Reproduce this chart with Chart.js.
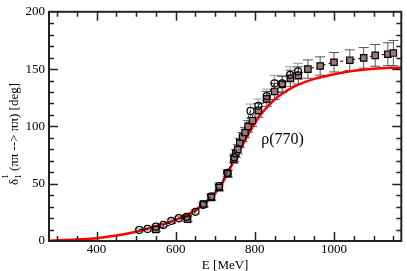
<!DOCTYPE html>
<html>
<head>
<meta charset="utf-8">
<script src="https://cdn.jsdelivr.net/npm/chart.js@4.4.0/dist/chart.umd.min.js"></script>
<style>
  html, body { margin: 0; padding: 0; background: #fff; }
  canvas { display: block; }
</style>
</head>
<body>
<canvas id="phaseChart" width="407" height="271"></canvas>
<script>
// open circles
const circleEnergy = [508, 529, 550, 569, 589, 608, 627, 650, 669, 690, 710, 730, 748, 789, 809, 830, 850, 869, 889, 909];
const circlePhase  = [9.7, 10.5, 12.5, 14, 17.6, 19.9, 21, 25.5, 31.5, 39, 48, 59.5, 73, 113.5, 118, 126.5, 137.5, 137.5, 145, 148];
const circleError  = [1, 1, 1.2, 1.2, 1.5, 1.5, 1.5, 2, 2, 2.5, 3, 3, 3.5, 6, 6, 6, 7, 7, 7, 7];

// filled squares
const squareEnergy = [550, 630, 671, 690, 710, 732, 747, 752, 757, 762, 769, 775, 783, 794, 809, 830, 850, 869, 890, 910, 934, 965, 1000, 1040, 1075, 1104, 1136, 1150];
const squarePhase  = [10, 19, 32.3, 38, 46.7, 58.7, 71.4, 76.5, 80, 85.6, 90.7, 94.7, 100, 105, 114, 124, 130.5, 136.6, 142, 144.5, 150, 152.7, 156, 157.8, 159.8, 162, 163, 164];
const squareError  = [1.5, 2, 2.5, 2.5, 3, 3, 3.5, 3.5, 4, 4, 4, 4.5, 5, 5, 6, 6.5, 7, 7, 7, 7.5, 8, 8, 8.5, 9, 9, 9.5, 10, 11];

// rho(770) curve
const rhoEnergy = [280, 320, 360, 400, 450, 500, 550, 600, 640, 680, 700, 720, 740, 760, 780, 800, 820, 850, 880, 900, 950, 1000, 1050, 1100, 1170];
const rhoPhase  = [0.3, 0.8, 1.5, 2.5, 4.8, 8, 13, 18.5, 25, 35, 42, 52, 65, 78, 91, 103, 112.5, 123.5, 131, 135, 141.5, 145.5, 148.5, 150.3, 151.5];

const xTickLabels = [400, 600, 800, 1000];
const yTickLabels = [0, 50, 100, 150, 200];

const toPoints = (xs, ys) => xs.map((v, i) => ({ x: v, y: ys[i] }));
const serif = "'Liberation Serif', 'DejaVu Serif', serif";

// vertical error bars, drawn behind the markers
const errorBars = {
  id: "errorBars",
  beforeDatasetsDraw(chart) {
    const { ctx, chartArea, scales: { x, y } } = chart;
    ctx.save();
    ctx.beginPath();
    ctx.rect(chartArea.left, chartArea.top, chartArea.right - chartArea.left, chartArea.bottom - chartArea.top);
    ctx.clip();
    chart.data.datasets.forEach(ds => {
      if (!ds.errors) return;
      ctx.strokeStyle = ds.errorColor;
      ctx.lineWidth = 1;
      ds.data.forEach((p, i) => {
        const px = x.getPixelForValue(p.x);
        const top = y.getPixelForValue(p.y + ds.errors[i]);
        const bot = y.getPixelForValue(p.y - ds.errors[i]);
        ctx.beginPath();
        ctx.moveTo(px, top); ctx.lineTo(px, bot);
        ctx.moveTo(px - 5, top); ctx.lineTo(px + 5, top);
        ctx.moveTo(px - 5, bot); ctx.lineTo(px + 5, bot);
        ctx.stroke();
      });
    });
    ctx.restore();
  }
};

// box frame with inward ticks on all four sides, plus labels
const frameTicks = {
  id: "frameTicks",
  afterDraw(chart) {
    const { ctx, chartArea: a, scales: { x, y } } = chart;
    ctx.save();
    ctx.strokeStyle = "#222";
    ctx.lineWidth = 1.5;
    ctx.beginPath();
    for (let v = 300; v <= 1150; v += 50) {
      const len = v % 200 === 0 ? 9 : 5;
      const px = Math.round(x.getPixelForValue(v)) + 0.5;
      ctx.moveTo(px, a.bottom); ctx.lineTo(px, a.bottom - len);
      ctx.moveTo(px, a.top); ctx.lineTo(px, a.top + len);
    }
    for (let v = 10; v < 200; v += 10) {
      const len = v % 50 === 0 ? 9 : 5;
      const py = Math.round(y.getPixelForValue(v)) + 0.5;
      ctx.moveTo(a.left, py); ctx.lineTo(a.left + len, py);
      ctx.moveTo(a.right, py); ctx.lineTo(a.right - len, py);
    }
    ctx.stroke();
    ctx.lineWidth = 2;
    ctx.strokeRect(a.left, a.top, a.right - a.left, a.bottom - a.top);

    // rho(770) label
    ctx.fillStyle = "#000";
    ctx.font = "16px " + serif;
    ctx.textAlign = "left";
    ctx.textBaseline = "middle";
    ctx.fillText("ρ(770)", x.getPixelForValue(816), y.getPixelForValue(88));

    // y axis title with sub/superscript
    ctx.translate(14, 134);
    ctx.rotate(-Math.PI / 2);
    const main = "13px " + serif, small = "9px " + serif;
    const rest = " (ππ --> ππ) [deg]";
    ctx.font = main;
    const wD = ctx.measureText("δ").width, wR = ctx.measureText(rest).width;
    ctx.font = small;
    const w1 = ctx.measureText("1").width;
    let cx = -(wD + w1 + wR) / 2;
    ctx.textAlign = "left";
    ctx.textBaseline = "alphabetic";
    ctx.font = main;
    ctx.fillText("δ", cx, 4);
    cx += wD;
    ctx.font = small;
    ctx.fillText("1", cx, 7);
    ctx.fillText("1", cx, -6);
    cx += w1;
    ctx.font = main;
    ctx.fillText(rest, cx, 4);
    ctx.restore();
  }
};

new Chart(document.getElementById("phaseChart"), {
  type: "scatter",
  data: {
    datasets: [
      {
        data: toPoints(circleEnergy, circlePhase),
        errors: circleError,
        errorColor: "#9a9a9a",
        showLine: true,
        borderColor: "#000",
        borderWidth: 1,
        borderDash: [3, 3],
        pointStyle: "circle",
        pointRadius: 3.5,
        pointBorderWidth: 1.2,
        pointBorderColor: "#000",
        pointBackgroundColor: "rgba(0,0,0,0)"
      },
      {
        data: toPoints(squareEnergy, squarePhase),
        errors: squareError,
        errorColor: "#555",
        showLine: true,
        borderColor: "#000",
        borderWidth: 1,
        borderDash: [3, 3],
        pointStyle: "rect",
        pointRadius: 4.5,
        pointBorderWidth: 1.2,
        pointBorderColor: "#000",
        pointBackgroundColor: "#9e7777"
      },
      {
        data: toPoints(rhoEnergy, rhoPhase),
        showLine: true,
        borderColor: "#ff0000",
        borderWidth: 2.5,
        pointRadius: 0,
        cubicInterpolationMode: "monotone"
      }
    ]
  },
  options: {
    responsive: false,
    animation: false,
    layout: { padding: { top: 6, right: 3, left: 0, bottom: 0 } },
    plugins: { legend: { display: false }, tooltip: { enabled: false } },
    scales: {
      x: {
        type: "linear",
        min: 280,
        max: 1170,
        afterBuildTicks: s => { s.ticks = xTickLabels.map(v => ({ value: v })); },
        afterFit: s => { s.height = 30; },
        grid: { display: true, drawOnChartArea: false, drawTicks: false },
        border: { display: false },
        ticks: { color: "#000", font: { family: serif, size: 13 }, padding: 1, maxRotation: 0, callback: v => String(v) },
        title: { display: true, text: "E [MeV]", color: "#000", font: { family: serif, size: 13 }, padding: { top: 0, bottom: -2 } }
      },
      y: {
        type: "linear",
        min: 0,
        max: 200,
        afterBuildTicks: s => { s.ticks = yTickLabels.map(v => ({ value: v })); },
        afterFit: s => { s.width = 49; },
        grid: { display: true, drawOnChartArea: false, drawTicks: false },
        border: { display: false },
        ticks: { color: "#000", font: { family: serif, size: 13 }, padding: 4, callback: v => String(v) }
      }
    }
  },
  plugins: [errorBars, frameTicks]
});
</script>
</body>
</html>
